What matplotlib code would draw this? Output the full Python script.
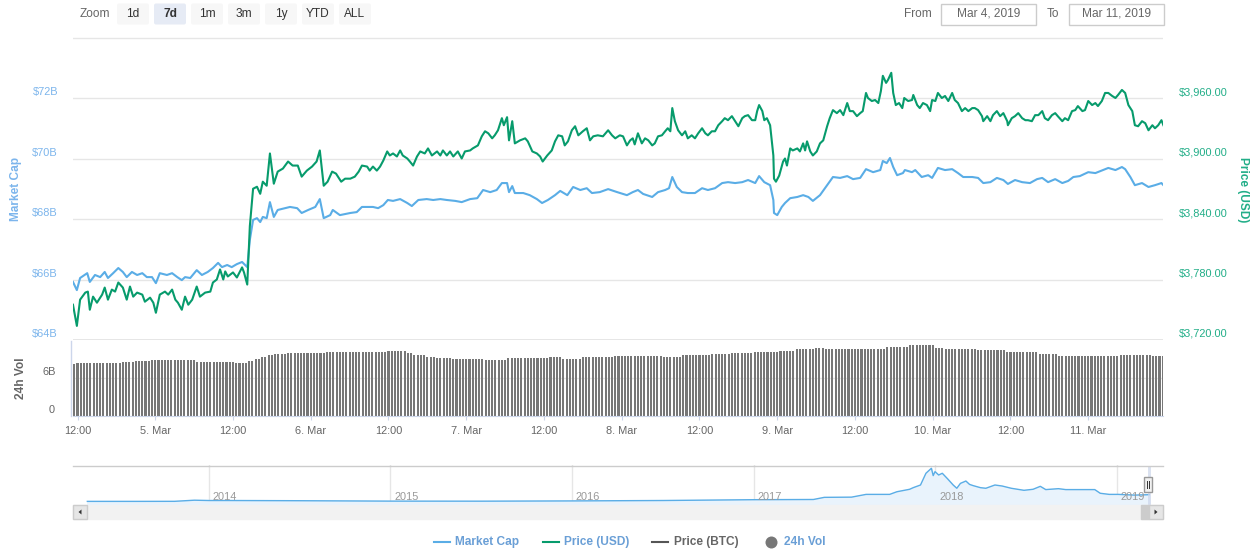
import numpy as np
import matplotlib
matplotlib.use('Agg')
import matplotlib.pyplot as plt
from matplotlib.patches import Rectangle, FancyBboxPatch, Polygon

plt.rcParams['font.family'] = ['Liberation Sans', 'DejaVu Sans']

# ---- data (hours counted from Mar 4 2019 00:00) ----
price_hours = [
    11.3, 11.9, 12.4, 13.2, 13.6, 13.9, 14.4, 15.0, 15.8, 16.2, 16.7, 17.3, 17.8, 18.3, 19.0, 19.6,
    20.1, 20.6, 21.2, 22.0, 22.4, 23.2, 23.7, 24.1, 24.7, 25.5, 26.0, 26.6, 27.1, 27.5, 28.1, 28.6,
    29.1, 29.7, 30.4, 30.9, 31.7, 32.5, 32.9, 33.5, 34.0, 34.5, 34.8, 35.2, 36.0, 36.6, 37.4, 37.7,
    38.2, 38.6, 39.1, 39.7, 40.2, 40.6, 41.2, 41.7, 42.3, 42.9, 43.7, 44.5, 45.2, 46.0, 46.6, 47.4,
    48.2, 48.9, 49.4, 50.0, 50.6, 51.3, 51.9, 52.7, 53.3, 54.1, 54.8, 55.4,
    55.9, 56.7, 57.1, 57.6, 58.2, 58.7, 59.2, 59.8, 60.2, 60.7, 61.3, 61.8, 62.2, 62.9, 63.3, 63.8,
    64.4, 64.9, 65.6, 66.1, 66.7, 67.5, 68.0, 68.4, 69.0, 69.5, 70.0, 70.7, 71.3, 71.8, 72.6, 73.0,
    73.8, 74.4, 74.9, 75.4, 76.0, 76.4, 76.9, 77.5, 77.8, 78.3, 78.6, 79.1, 79.5, 80.3, 81.1, 81.5,
    82.2, 82.9, 83.4, 83.8, 84.5, 85.2, 85.7, 86.2, 86.8, 87.2, 87.7, 88.3, 88.8, 89.3, 90.0, 90.6,
    91.1, 91.6, 92.3, 93.1, 93.9, 94.5, 95.0, 95.7, 96.2, 96.8,
    97.3, 97.7, 98.0, 98.5, 99.1, 99.6, 100.1, 100.7, 101.1, 101.6, 102.2, 102.7, 103.1, 103.5, 103.8, 104.2,
    104.7, 105.3, 105.8, 106.2, 106.8, 107.3, 107.8, 108.4, 108.9, 109.3, 109.9, 110.4, 110.9, 111.5, 111.9, 112.4,
    113.0, 113.5, 114.0, 114.6, 115.0, 115.5, 116.1, 116.6, 116.9, 117.2, 117.7, 118.0, 118.4, 118.9, 119.4, 119.5,
    119.8, 120.3, 120.9, 121.2, 121.5, 122.0, 122.4, 123.1, 123.5, 124.0, 124.3, 124.6, 125.1, 125.5, 126.1, 126.6,
    127.1, 127.7, 128.1, 128.6, 129.2, 129.7, 130.2, 130.8, 131.2, 131.7, 132.3, 132.8, 133.2, 133.7, 134.0, 134.6,
    135.1, 135.6, 136.0, 136.3, 136.8, 137.1, 137.6, 137.9, 138.3, 138.8, 139.3,
    139.6, 140.2, 140.8, 141.0, 141.6, 142.0, 142.5, 143.1, 143.6, 143.9, 144.4, 144.8, 145.4, 145.9, 146.4, 147.0,
    147.4, 147.9, 148.5, 149.0, 149.5, 150.1, 150.5, 151.0, 151.6, 151.8, 152.4, 152.9, 153.3, 153.9, 154.4, 154.9,
    155.5, 155.6, 156.2, 156.7, 157.2, 157.8, 158.3, 158.7, 159.3, 159.8, 160.3, 160.9, 161.3, 161.8, 162.4, 162.9,
    163.3, 164.0, 164.4, 164.9, 165.5, 166.0, 166.4, 167.1, 167.5, 168.0, 168.6, 169.1, 169.5, 170.1, 170.6, 171.1,
    171.7, 172.2, 172.6, 173.2, 173.7, 174.2, 174.8, 175.2, 175.7, 176.3, 176.8, 177.3, 177.9, 178.3, 178.8, 179.3,
    179.6]
price_usd = [
    3755, 3734, 3760, 3767, 3768, 3750, 3763, 3757, 3765, 3772, 3760, 3770, 3768, 3777, 3772, 3760,
    3773, 3763, 3767, 3765, 3758, 3762, 3757, 3747, 3765, 3768, 3765, 3770, 3760, 3757, 3750, 3763,
    3755, 3760, 3773, 3763, 3767, 3768, 3777, 3780, 3790, 3780, 3788, 3783, 3787, 3782, 3792, 3787,
    3775, 3833, 3870, 3872, 3865, 3877, 3873, 3905, 3875, 3887, 3890, 3897, 3893, 3893, 3882, 3888,
    3892, 3897, 3908, 3873, 3877, 3887, 3885, 3877, 3880, 3880, 3882, 3887,
    3893, 3892, 3888, 3892, 3888, 3892, 3898, 3907, 3903, 3905, 3902, 3908, 3903, 3900, 3897, 3893,
    3902, 3907, 3905, 3910, 3903, 3907, 3903, 3908, 3903, 3907, 3902, 3907, 3900, 3907, 3908, 3910,
    3913, 3922, 3927, 3925, 3920, 3923, 3928, 3940, 3933, 3941, 3918, 3937, 3915, 3918, 3920, 3917,
    3907, 3905, 3902, 3897, 3903, 3908, 3917, 3923, 3922, 3913, 3917, 3928, 3932, 3923, 3927, 3930,
    3918, 3922, 3923, 3922, 3928, 3923, 3920, 3923, 3922, 3913,
    3918, 3920, 3914, 3925, 3915, 3920, 3918, 3913, 3915, 3922, 3923, 3927, 3930, 3927, 3950, 3937,
    3928, 3923, 3927, 3920, 3923, 3920, 3925, 3930, 3925, 3923, 3927, 3927, 3933, 3937, 3940, 3938,
    3942, 3937, 3932, 3940, 3942, 3943, 3938, 3938, 3947, 3953, 3947, 3938, 3940, 3933, 3903, 3880,
    3877, 3883, 3897, 3900, 3893, 3910, 3908, 3910, 3907, 3915, 3908, 3917, 3907, 3903, 3907, 3915,
    3918, 3932, 3940, 3948, 3945, 3948, 3943, 3955, 3947, 3947, 3942, 3945, 3947, 3965, 3960, 3957,
    3958, 3955, 3967, 3982, 3975, 3978, 3985, 3965, 3953, 3955, 3950,
    3960, 3957, 3958, 3963, 3953, 3950, 3955, 3953, 3947, 3958, 3957, 3965, 3960, 3962, 3957, 3965,
    3958, 3955, 3947, 3950, 3947, 3950, 3950, 3948, 3942, 3937, 3942, 3937, 3943, 3947, 3942, 3945,
    3937, 3933, 3940, 3942, 3945, 3940, 3938, 3938, 3937, 3943, 3943, 3947, 3940, 3938, 3943, 3945,
    3942, 3937, 3940, 3938, 3947, 3948, 3952, 3947, 3948, 3957, 3953, 3955, 3952, 3957, 3965, 3965,
    3962, 3960, 3963, 3968, 3965, 3953, 3947, 3933, 3932, 3937, 3935, 3928, 3933, 3930, 3933, 3938,
    3933]

mcap_hours = [
    11.3, 11.9, 12.4, 13.5, 13.9, 14.7, 15.5, 16.2, 16.7, 17.5, 18.3, 19.0, 19.6, 20.4, 21.2, 22.0,
    22.7, 23.5, 24.1, 24.7, 25.8, 26.6, 27.4, 28.1, 28.6, 29.4, 30.4, 31.2, 32.1, 32.9, 33.7, 34.3,
    35.1, 35.8, 36.6, 37.4, 38.2, 38.6, 39.1, 39.7, 40.2, 40.6, 41.2, 41.7, 42.3, 42.9, 44.0, 44.8,
    45.9, 46.6, 47.6, 48.7, 49.4, 50.0, 51.0, 51.4,
    52.5, 54.1, 55.1, 55.9, 56.8, 57.6, 58.4, 59.2, 59.9, 60.7, 61.8, 62.9, 63.6, 64.6, 65.9, 66.9,
    68.0, 69.0, 70.3, 71.3, 72.6, 73.7, 74.6, 75.7, 76.7, 77.5, 78.3, 78.6, 79.1, 79.5, 80.8, 81.8,
    82.9, 83.7, 84.6, 85.7, 86.5, 87.6, 88.5, 89.6, 90.6, 91.4, 92.6, 93.9, 95.3, 96.8,
    97.7, 98.5, 99.3, 100.7, 101.6, 102.7, 103.3, 103.8, 104.5, 105.3, 106.2, 107.3, 108.4, 109.3, 110.4, 111.5,
    112.4, 113.5, 114.6, 115.5, 116.6, 117.2, 118.0, 118.9, 119.4, 119.5, 120.0, 120.7, 121.2, 122.0, 123.1, 124.0,
    124.8, 125.5, 126.6, 127.7, 128.6, 129.7, 130.8, 131.7, 132.8, 133.7, 134.8, 135.9, 136.3, 136.9, 137.4, 137.9,
    138.5, 139.4,
    139.7, 140.8, 141.3, 142.3, 143.3, 143.9, 144.8, 145.9, 147.0, 147.9, 148.7, 150.1, 151.0, 151.8, 152.9, 153.9,
    154.9, 155.6, 156.7, 157.8, 159.0, 160.1, 160.9, 161.8, 162.9, 164.0, 164.9, 165.7, 166.7, 168.0, 169.1, 170.3,
    171.1, 172.2, 173.2, 173.7, 174.5, 175.2, 176.3, 177.3, 178.3, 179.3, 179.6]
mcap_bn = [
    65.92, 65.65, 66.05, 66.21, 65.92, 66.15, 66.08, 66.25, 66.05, 66.21, 66.38, 66.25, 66.08, 66.25, 66.15, 66.21,
    66.08, 66.08, 65.88, 66.21, 66.15, 66.21, 66.08, 65.98, 66.08, 66.05, 66.31, 66.15, 66.25, 66.38, 66.55, 66.41,
    66.48, 66.41, 66.51, 66.58, 66.41, 67.31, 67.97, 68.03, 67.90, 68.07, 68.03, 68.56, 68.07, 68.30, 68.36, 68.40,
    68.36, 68.20, 68.30, 68.40, 68.66, 68.03, 68.13, 68.30,
    68.13, 68.20, 68.23, 68.40, 68.40, 68.40, 68.36, 68.46, 68.63, 68.60, 68.66, 68.53, 68.43, 68.63, 68.66, 68.63,
    68.66, 68.63, 68.60, 68.56, 68.66, 68.69, 68.96, 68.89, 68.96, 69.19, 69.19, 68.89, 69.09, 68.86, 68.86, 68.79,
    68.66, 68.53, 68.63, 68.79, 68.93, 68.79, 69.06, 68.96, 69.02, 68.86, 68.89, 68.99, 68.89, 68.79,
    68.89, 68.96, 68.83, 68.73, 68.89, 68.96, 69.02, 69.39, 69.06, 68.89, 68.86, 68.86, 69.02, 68.96, 69.02, 69.19,
    69.22, 69.19, 69.22, 69.29, 69.19, 69.42, 69.22, 69.12, 68.63, 68.20, 68.13, 68.40, 68.53, 68.69, 68.73, 68.79,
    68.73, 68.60, 68.79, 69.12, 69.39, 69.36, 69.42, 69.32, 69.36, 69.65, 69.55, 69.62, 69.92, 69.85, 70.02, 69.72,
    69.45, 69.52,
    69.62, 69.55, 69.62, 69.39, 69.45, 69.36, 69.69, 69.62, 69.65, 69.52, 69.39, 69.39, 69.36, 69.19, 69.22, 69.36,
    69.29, 69.16, 69.29, 69.22, 69.19, 69.32, 69.36, 69.22, 69.32, 69.19, 69.26, 69.39, 69.42, 69.55, 69.52, 69.62,
    69.69, 69.62, 69.72, 69.65, 69.39, 69.12, 69.19, 69.06, 69.12, 69.19, 69.12]

# 24h volume (billions), half-hour bars given as level / number of bars
vol_levels = [8.16, 8.32, 8.42, 8.53, 8.68, 8.84, 8.79, 8.53, 8.47, 8.37,
              8.63, 9.05, 9.26, 9.58, 9.79, 9.95, 10.1, 10.31, 10.0, 9.68,
              9.32, 9.16, 9.0, 8.79, 9.16, 9.26, 9.05, 9.26, 9.32, 9.47,
              9.26, 9.58, 9.84, 9.95, 10.06, 10.31, 10.58, 10.69, 10.58, 10.9,
              11.16, 10.74, 10.53, 10.37, 10.1, 9.79, 9.42, 9.53, 9.58, 9.53]
vol_counts = [1, 3, 11, 4, 5, 9, 5, 8, 4, 4,
              2, 2, 2, 2, 4, 12, 19, 6, 2, 4,
              3, 5, 10, 7, 13, 4, 6, 4, 6, 15,
              6, 9, 6, 7, 8, 5, 6, 3, 19, 7,
              8, 3, 10, 9, 10, 6, 5, 14, 10, 4]

# navigator: whole history of market cap (billions) by year
nav_years = [2013.33, 2013.6, 2013.81, 2013.92, 2014.0, 2014.1, 2014.5, 2015.0, 2015.5, 2016.0, 2016.5,
             2017.0, 2017.33, 2017.39, 2017.54, 2017.62, 2017.75, 2017.79, 2017.86, 2017.88, 2017.92,
             2017.95, 2017.98, 2017.99, 2018.0, 2018.02, 2018.04, 2018.07, 2018.10, 2018.12, 2018.14,
             2018.17, 2018.19, 2018.21, 2018.25, 2018.28, 2018.33, 2018.37, 2018.42, 2018.49, 2018.54,
             2018.58, 2018.61, 2018.68, 2018.72, 2018.80, 2018.88, 2018.91, 2018.96, 2019.01, 2019.10, 2019.18]
nav_mcap_bn = [1.5, 1.5, 2, 13, 10, 10, 8, 4, 3.5, 6, 10,
               18, 20, 41, 43, 70, 70, 96, 120, 136, 162,
               277, 326, 254, 293, 260, 277, 221, 162, 130, 178,
               201, 168, 156, 136, 130, 162, 152, 130, 110, 120,
               149, 117, 126, 117, 117, 117, 81, 70, 70, 63, 67]

mcap_ticks = [64, 66, 68, 70, 72]
price_ticks = [3720, 3780, 3840, 3900, 3960]
xtick_hours = [12, 24, 36, 48, 60, 72, 84, 96, 108, 120, 132, 144, 156, 168]
xtick_labels = ['12:00', '5. Mar', '12:00', '6. Mar', '12:00', '7. Mar', '12:00', '8. Mar',
                '12:00', '9. Mar', '12:00', '10. Mar', '12:00', '11. Mar']
nav_year_ticks = [2014, 2015, 2016, 2017, 2018, 2019]

BLUE = '#5aade6'
BLUE_LBL = '#7cb5ec'
GREEN = '#079b6c'
GREEN_LBL = '#22ae88'
LEG_BLUE = '#6a9fd6'
GREY = '#666666'
GRID = '#e6e6e6'
AXIS = '#ccd6eb'
PX = 0.72  # points per pixel at dpi 100

W, H = 1255, 553
fig = plt.figure(figsize=(W / 100, H / 100), dpi=100)


def box(x0, y0, x1, y1):
    return [x0 / W, 1 - y1 / H, (x1 - x0) / W, (y1 - y0) / H]


XLIM = (11.305, 179.54)

# main panel
ax = fig.add_axes(box(73, 37, 1163, 340))
ax.axis('off')
ax.set_xlim(*XLIM)
ax.set_ylim(64, 74.02)
for v in mcap_ticks + [74]:
    ax.axhline(v, color=GRID, lw=1.4 if v == 64 else 1, zorder=0)
for v in mcap_ticks:
    ax.annotate(f'${v}B', xy=(0, v), xycoords=('axes fraction', 'data'),
                xytext=(-15 * PX, 6 * PX), textcoords='offset points',
                ha='right', va='center', fontsize=7.9, color=BLUE_LBL)
ax.plot(mcap_hours, mcap_bn, color=BLUE, lw=1.5, zorder=3)

ax2 = ax.twinx()
ax2.axis('off')
ax2.set_ylim(3720, 4020.5)
for p in price_ticks:
    ax2.annotate(f'${p:,.2f}', xy=(1, p), xycoords=('axes fraction', 'data'),
                 xytext=(16 * PX, 6 * PX), textcoords='offset points',
                 ha='left', va='center', fontsize=7.9, color=GREEN_LBL)
ax2.plot(price_hours, price_usd, color=GREEN, lw=1.5, zorder=3)

# volume panel
axv = fig.add_axes(box(73, 341, 1163, 416))
axv.set_facecolor('none')
vol_hours = 11.5 + 0.5 * np.arange(sum(vol_counts))
vol_bn = np.repeat(vol_levels, vol_counts)
axv.bar(vol_hours, vol_bn, width=0.32, color='#777777', zorder=2)
axv.axhline(6, color=GRID, lw=1, zorder=1)
axv.set_xlim(*XLIM)
axv.set_ylim(0, 11.84)
for s in ['top', 'left', 'right']:
    axv.spines[s].set_visible(False)
axv.spines['bottom'].set_color(AXIS)
axv.set_yticks([])
axv.set_xticks(xtick_hours)
axv.set_xticklabels(xtick_labels)
axv.tick_params(axis='x', length=4 * PX, color=AXIS, labelsize=7.9, labelcolor=GREY, pad=4.5)
for v, lbl, off in [(6, '6B', -17), (0, '0', -18)]:
    axv.annotate(lbl, xy=(0, v), xycoords=('axes fraction', 'data'),
                 xytext=(off * PX, 6 * PX), textcoords='offset points',
                 ha='right', va='center', fontsize=7.9, color=GREY)

# navigator
axn = fig.add_axes(box(73, 465, 1163, 505))
axn.axis('off')
axn.set_xlim(2013.251, 2019.256)
axn.set_ylim(-34, 358)
for yr in nav_year_ticks:
    axn.axvline(yr, color=GRID, lw=1, zorder=0)
    axn.annotate(str(yr), xy=(yr, 0), xycoords=('data', 'axes fraction'),
                 xytext=(4 * PX, 8 * PX), textcoords='offset points',
                 ha='left', va='center', fontsize=7.9, color='#999999')
axn.fill_between(nav_years, nav_mcap_bn, -34, color='#e9f3fc', zorder=1)
axn.plot(nav_years, nav_mcap_bn, color=BLUE, lw=1, zorder=2)

# overlay in pixel coordinates for the chrome
ov = fig.add_axes([0, 0, 1, 1])
ov.set_xlim(0, W)
ov.set_ylim(H, 0)
ov.axis('off')

ov.plot([70.5, 70.5], [341, 416], color=AXIS, lw=1)
ov.text(16, 189, 'Market Cap', rotation=90, ha='center', va='center',
        fontsize=8.6, fontweight='bold', color=BLUE_LBL)
ov.text(21, 378, '24h Vol', rotation=90, ha='center', va='center',
        fontsize=8.6, fontweight='bold', color=GREY)
ov.text(1243, 190, 'Price (USD)', rotation=270, ha='center', va='center',
        fontsize=8.6, fontweight='bold', color=GREEN_LBL)

# zoom buttons
ov.text(80, 14, 'Zoom', ha='left', va='center', fontsize=8.6, color=GREY)
buttons = [('1d', 117, 149), ('7d', 154, 186), ('1m', 191, 223), ('3m', 228, 260),
           ('1y', 265, 297), ('YTD', 302, 334), ('ALL', 339, 371)]
for lbl, x0, x1 in buttons:
    sel = lbl == '7d'
    ov.add_patch(FancyBboxPatch((x0, 3.5), x1 - x0, 21, boxstyle='round,pad=0,rounding_size=2',
                                fc='#e6ebf5' if sel else '#f7f7f7', ec='none'))
    ov.text((x0 + x1) / 2, 14, lbl, ha='center', va='center', fontsize=8.6,
            color='#333333', fontweight='bold' if sel else 'normal')

# date range inputs
ov.text(904, 14, 'From', ha='left', va='center', fontsize=8.6, color=GREY)
ov.add_patch(Rectangle((941, 3.5), 95, 21, fc='white', ec='#cccccc', lw=1))
ov.text(988.5, 14, 'Mar 4, 2019', ha='center', va='center', fontsize=8.6, color=GREY)
ov.text(1047, 14, 'To', ha='left', va='center', fontsize=8.6, color=GREY)
ov.add_patch(Rectangle((1069, 3.5), 95, 21, fc='white', ec='#cccccc', lw=1))
ov.text(1116.5, 14, 'Mar 11, 2019', ha='center', va='center', fontsize=8.6, color=GREY)

# navigator frame, handle, scrollbar
ov.plot([73, 1163], [465.5, 465.5], color='#cccccc', lw=1)
ov.add_patch(Rectangle((1147.5, 465.5), 3.5, 39.5, fc=AXIS, ec='none', alpha=0.7))
ov.add_patch(Rectangle((1144, 477), 8, 15, fc='#f2f2f2', ec='#999999', lw=1))
ov.plot([1147, 1147], [481, 488], color='#333333', lw=0.7)
ov.plot([1149, 1149], [481, 488], color='#333333', lw=0.7)
ov.add_patch(Rectangle((73, 505), 1090, 14, fc='#f2f2f2', ec='#f2f2f2', lw=1))
ov.add_patch(Rectangle((1141, 505), 8, 14, fc='#cccccc', ec='#cccccc', lw=1))
ov.add_patch(Rectangle((73, 505), 14, 14, fc='#e6e6e6', ec='#cccccc', lw=1))
ov.add_patch(Polygon([(78.5, 512), (81.5, 509.5), (81.5, 514.5)], closed=True, fc='#333333'))
ov.add_patch(Rectangle((1149, 505), 14, 14, fc='#e6e6e6', ec='#cccccc', lw=1))
ov.add_patch(Polygon([(1157.5, 512), (1154.5, 509.5), (1154.5, 514.5)], closed=True, fc='#333333'))

# legend
ov.plot([434, 450], [542, 542], color=BLUE, lw=1.5)
ov.text(455, 542, 'Market Cap', ha='left', va='center', fontsize=8.6, fontweight='bold', color=LEG_BLUE)
ov.plot([543, 559], [542, 542], color=GREEN, lw=1.5)
ov.text(564, 542, 'Price (USD)', ha='left', va='center', fontsize=8.6, fontweight='bold', color=LEG_BLUE)
ov.plot([652, 668], [542, 542], color='#555555', lw=1.5)
ov.text(674, 542, 'Price (BTC)', ha='left', va='center', fontsize=8.6, fontweight='bold', color='#666666')
ov.scatter([771], [542], s=(12 * PX) ** 2, color='#777777', lw=0)
ov.text(784, 542, '24h Vol', ha='left', va='center', fontsize=8.6, fontweight='bold', color=LEG_BLUE)

fig.savefig('out.png', dpi=100)
